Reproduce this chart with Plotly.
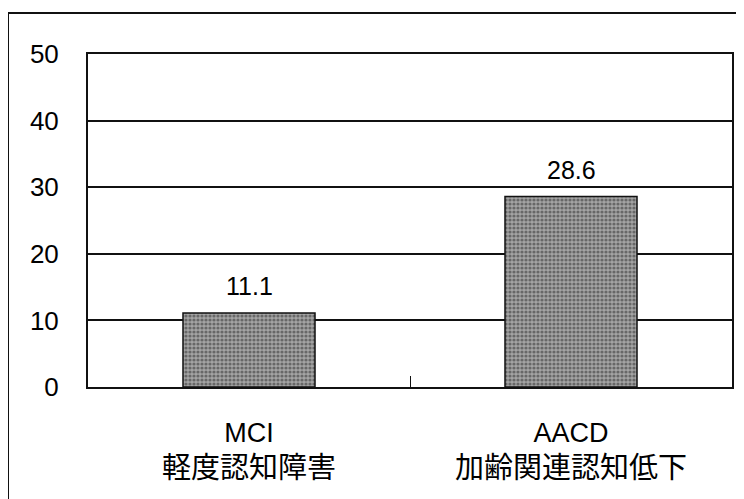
import plotly.graph_objects as go

categories_en = ["MCI", "AACD"]
categories_ja = ["軽度認知障害", "加齢関連認知低下"]
values = [11.1, 28.6]
y_ticks = [0, 10, 20, 30, 40, 50]

FONT = "Liberation Sans, Noto Sans CJK JP, sans-serif"

cats = [f"{en}<br><span style='font-size:29px'>{ja}</span>" for en, ja in zip(categories_en, categories_ja)]

fig = go.Figure()
fig.add_trace(go.Bar(
    x=cats,
    y=values,
    marker=dict(
        color="#8a8a8a",
        line=dict(color="#111", width=1.5),
        pattern=dict(shape=".", fgcolor="#2a2a2a", bgcolor="#a4a4a4", size=4, solidity=0.5),
    ),
    hoverinfo="skip",
))

for c, v in zip(cats, values):
    fig.add_annotation(
        x=c, y=v, text=f"{v:.1f}", showarrow=False,
        yanchor="bottom", yshift=11,
        font=dict(size=25, color="#000", family=FONT),
    )

# page body offsets the figure by 8px; compensate
OFF = 8
W, H = 744, 499
L, R, T, B = 88 - OFF, 12 + OFF, 54 - OFF, 112 + OFF
pw = W - L - R
ph = H - T - B

# outer frame (partially cut off at right and bottom)
fx0 = (8 - OFF - L) / pw
fx1 = (W + 10 - L) / pw
fy1 = (H - B - (13 - OFF)) / ph
fy0 = (H - B - (H + 10)) / ph
fig.add_shape(type="rect", xref="paper", yref="paper",
              x0=fx0, x1=fx1, y0=fy0, y1=fy1,
              line=dict(color="#111", width=2), fillcolor="rgba(0,0,0,0)", layer="below")

fig.update_layout(
    width=W, height=H,
    margin=dict(l=L, r=R, t=T, b=B, pad=0),
    paper_bgcolor="white", plot_bgcolor="white",
    bargap=0.59,
    showlegend=False,
    font=dict(family=FONT, color="#000", size=25),
)
fig.update_xaxes(
    showline=True, linecolor="#111", linewidth=2, mirror=True,
    ticks="inside", ticklen=11, tickcolor="#111", tickwidth=1,
    tickson="boundaries",
    showgrid=False,
    tickfont=dict(size=27, family=FONT, color="#000"),
    ticklabelstandoff=21,
)
fig.update_yaxes(
    range=[0, 50], tickvals=y_ticks,
    showline=True, linecolor="#111", linewidth=2, mirror=True,
    showgrid=True, gridcolor="#111", gridwidth=1.5,
    ticks="", ticklabelstandoff=22,
    tickfont=dict(size=26, family=FONT, color="#000"),
    zeroline=False,
)

fig.write_html("out.html")
